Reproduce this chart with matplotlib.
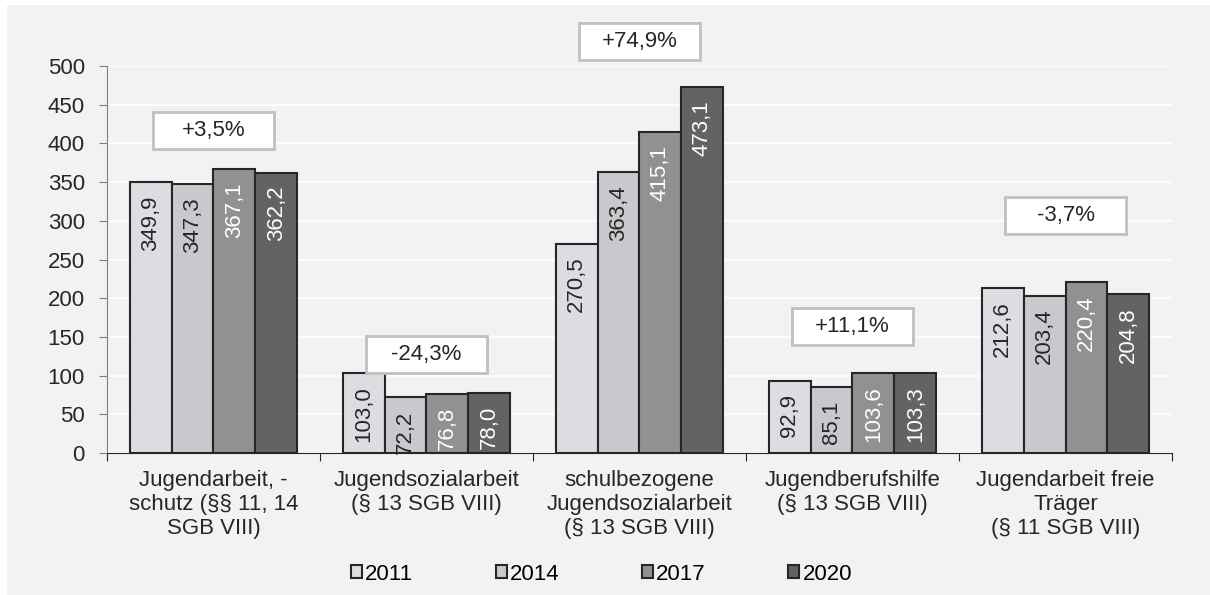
import numpy as np
import matplotlib.pyplot as plt
from matplotlib.patches import Rectangle

plt.rcParams['font.family'] = ['Liberation Sans', 'DejaVu Sans']

# Data
categories = ['Jugendarbeit, -\nschutz (§§ 11, 14\nSGB VIII)',
              'Jugendsozialarbeit\n(§ 13 SGB VIII)',
              'schulbezogene\nJugendsozialarbeit\n(§ 13 SGB VIII)',
              'Jugendberufshilfe\n(§ 13 SGB VIII)',
              'Jugendarbeit freie\nTräger\n(§ 11 SGB VIII)']
years = ['2011', '2014', '2017', '2020']
v2011 = [349.9, 103.0, 270.5, 92.9, 212.6]
v2014 = [347.3, 72.2, 363.4, 85.1, 203.4]
v2017 = [367.1, 76.8, 415.1, 103.6, 220.4]
v2020 = [362.2, 78.0, 473.1, 103.3, 204.8]
changes = ['+3,5%', '-24,3%', '+74,9%', '+11,1%', '-3,7%']
change_y = [417, 127, 532, 163, 307]

series = [v2011, v2014, v2017, v2020]
colors = ['#dcdde0', '#c8c9cc', '#909193', '#636365']
text_colors = ['#262626', '#262626', 'white', 'white']
bg = '#f1f2f4'
fs = 16

fig = plt.figure(figsize=(12.1, 5.95), dpi=100, facecolor='white')
fig.patches.append(Rectangle((7 / 1210, 0), 1, 1 - 5 / 595, transform=fig.transFigure,
                             facecolor=bg, edgecolor='none', zorder=-10))
ax = fig.add_axes([0.0884, 0.2387, 0.8802, 0.6503])
ax.set_facecolor(bg)

x = np.arange(len(categories))
w = 0.197
for i, (vals, c, tc) in enumerate(zip(series, colors, text_colors)):
    pos = x + (i - 1.5) * w
    ax.bar(pos, vals, width=w, color=c, edgecolor='#262626', linewidth=1.5,
           label=years[i], zorder=3)
    for px, v in zip(pos, vals):
        ax.text(px, v - 17, f'{v:.1f}'.replace('.', ','), rotation=90,
                ha='center', va='top', fontsize=fs, color=tc, zorder=4)

# change boxes
bw, bh = 0.57, 48
for xi, lab, yy in zip(x, changes, change_y):
    ax.add_patch(Rectangle((xi - bw / 2, yy - bh / 2), bw, bh, facecolor='white',
                           edgecolor='#c0c0c0', linewidth=2, zorder=5, clip_on=False))
    ax.text(xi, yy, lab, ha='center', va='center', fontsize=fs, color='#262626',
            zorder=6, clip_on=False)

ax.set_ylim(0, 500)
ax.set_xlim(-0.5, len(categories) - 0.5)
ax.set_yticks(np.arange(0, 501, 50))
ax.yaxis.grid(True, color='white', linewidth=1.2, zorder=0)
ax.set_axisbelow(True)
ax.set_xticks(np.arange(-0.5, len(categories), 1.0))
ax.set_xticklabels([])
ax.set_xticks(x, minor=True)
ax.set_xticklabels(categories, minor=True, fontsize=fs, color='#262626')
ax.tick_params(axis='x', which='minor', length=0, pad=12)
ax.tick_params(axis='x', which='major', length=6, color='#262626', direction='out')
ax.tick_params(axis='y', length=6, color='#808080', labelsize=fs,
               labelcolor='#262626', pad=10)
for s in ['top', 'right']:
    ax.spines[s].set_visible(False)
ax.spines['left'].set_color('#808080')
ax.spines['bottom'].set_color('#262626')

fig.legend(loc='center', bbox_to_anchor=(0.497, 0.035), ncol=4, frameon=False,
           fontsize=fs, handlelength=0.5, handleheight=0.5, handletextpad=0.15,
           columnspacing=3.7)

fig.savefig('out.png', dpi=100, facecolor=fig.get_facecolor())
